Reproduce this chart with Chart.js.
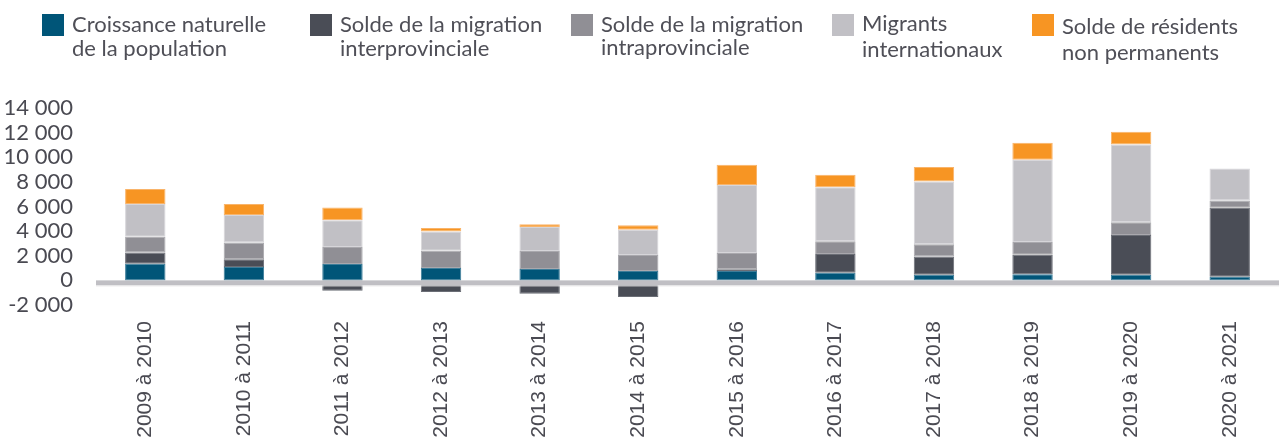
<!DOCTYPE html>
<html lang="fr">
<head>
<meta charset="utf-8">
<script src="https://cdn.jsdelivr.net/npm/chart.js@4"></script>
<style>
  html, body { margin: 0; padding: 0; background: #fff; }
  #wrap { position: relative; width: 1279px; height: 437px; overflow: hidden; }
  #popChart { position: absolute; left: 0; top: 0; }
  #legend { position: absolute; left: 0; top: 0; width: 1279px; height: 70px;
            font-family: Lato, "Open Sans", sans-serif; font-size: 22px; color: #4f4f57; }
  .item { position: absolute; }
  .box { position: absolute; top: 14px; width: 22px; height: 22px; }
  .txt { position: absolute; white-space: nowrap; line-height: 24px; }
</style>
</head>
<body>
<div id="wrap">
  <canvas id="popChart" width="1279" height="437"></canvas>
  <div id="legend"></div>
</div>
<script>
const periods = ['2009 à 2010', '2010 à 2011', '2011 à 2012', '2012 à 2013', '2013 à 2014', '2014 à 2015',
  '2015 à 2016', '2016 à 2017', '2017 à 2018', '2018 à 2019', '2019 à 2020', '2020 à 2021'];

const naturalGrowth = [1360, 1090, 1330, 1000, 920, 760, 760, 620, 460, 490, 460, 300];
const interprovincial = [900, 630, -840, -950, -1090, -1360, 140, 1520, 1470, 1600, 3230, 5590];
const intraprovincial = [1280, 1360, 1380, 1410, 1470, 1300, 1330, 1030, 1000, 1030, 1030, 600];
const international = [2660, 2230, 2170, 1550, 1950, 2060, 5510, 4400, 5100, 6680, 6320, 2600];
const nonPermanent = [1220, 900, 1030, 300, 220, 350, 1660, 1000, 1170, 1380, 1030, 0];

const seriesNames = [
  ['Croissance naturelle', 'de la population'],
  ['Solde de la migration', 'interprovinciale'],
  ['Solde de la migration', 'intraprovinciale'],
  ['Migrants', 'internationaux'],
  ['Solde de résidents', 'non permanents']
];
const yTicks = [-2000, 0, 2000, 4000, 6000, 8000, 10000, 12000, 14000];

const colors = ['#005578', '#4a4d56', '#908f95', '#c1c0c5', '#f79523'];
const edges = ['#3d7d99', '#6b6e76', '#a9a8ad', '#d6d5d9', '#f9b46a'];

// legend layout (px)
const legendLeft = [42, 310, 571, 832, 1032];
const legendTop = [12, 12, 12, 10, 13];
const legendLine = [24, 24, 23, 26, 26];

function fmt(v) {
  const s = String(Math.abs(v)).replace(/\B(?=(\d{3})+(?!\d))/g, ' ');
  return (v < 0 ? '-' : '') + s;
}

const zeroLine = {
  id: 'zeroLine',
  afterDatasetsDraw(chart) {
    const { ctx, chartArea, scales } = chart;
    const y0 = scales.y.getPixelForValue(0);
    ctx.save();
    ctx.fillStyle = '#c0bfc4';
    ctx.fillRect(chartArea.left, y0, chartArea.right - chartArea.left, 5);
    ctx.fillStyle = '#e6e5e8';
    ctx.fillRect(chartArea.left, y0 + 5, chartArea.right - chartArea.left, 1);
    ctx.restore();
  }
};

const values = [naturalGrowth, interprovincial, intraprovincial, international, nonPermanent];

const ctx = document.getElementById('popChart').getContext('2d');
const chart = new Chart(ctx, {
  type: 'bar',
  data: {
    labels: periods,
    datasets: values.map((d, i) => ({
      label: seriesNames[i].join(' '),
      data: d,
      backgroundColor: colors[i],
      borderColor: edges[i],
      borderWidth: 1,
      borderSkipped: false,
      barPercentage: 0.41,
      categoryPercentage: 1
    }))
  },
  options: {
    responsive: false,
    animation: false,
    layout: { padding: { top: 108, left: 0, right: 0, bottom: 0 } },
    plugins: { legend: { display: false }, tooltip: { enabled: false } },
    scales: {
      x: {
        stacked: true,
        grid: { display: false, drawTicks: false },
        border: { display: false },
        ticks: {
          minRotation: 90, maxRotation: 90, padding: 16, autoSkip: false,
          color: '#4a4a52', font: { family: '"Liberation Sans", Arial, sans-serif', size: 21 }
        },
        afterFit(scale) { scale.height = 132; }
      },
      y: {
        stacked: true,
        min: -2000, max: 14000,
        grid: { display: false, drawTicks: false },
        border: { display: false },
        afterBuildTicks(scale) { scale.ticks = yTicks.map(v => ({ value: v })); },
        ticks: {
          padding: 23,
          autoSkip: false,
          color: '#4a4a52',
          font: { family: 'Lato, sans-serif', size: 22 },
          callback: v => fmt(v)
        },
        afterFit(scale) { scale.width = 96; }
      }
    }
  },
  plugins: [zeroLine]
});

const legend = document.getElementById('legend');
seriesNames.forEach((lines, i) => {
  const item = document.createElement('div');
  item.className = 'item';
  item.style.left = legendLeft[i] + 'px';
  const box = document.createElement('div');
  box.className = 'box';
  box.style.background = colors[i];
  const txt = document.createElement('div');
  txt.className = 'txt';
  txt.style.left = '30px';
  txt.style.top = legendTop[i] + 'px';
  txt.style.lineHeight = legendLine[i] + 'px';
  txt.innerHTML = lines.join('<br>');
  item.appendChild(box);
  item.appendChild(txt);
  legend.appendChild(item);
});
</script>
</body>
</html>
